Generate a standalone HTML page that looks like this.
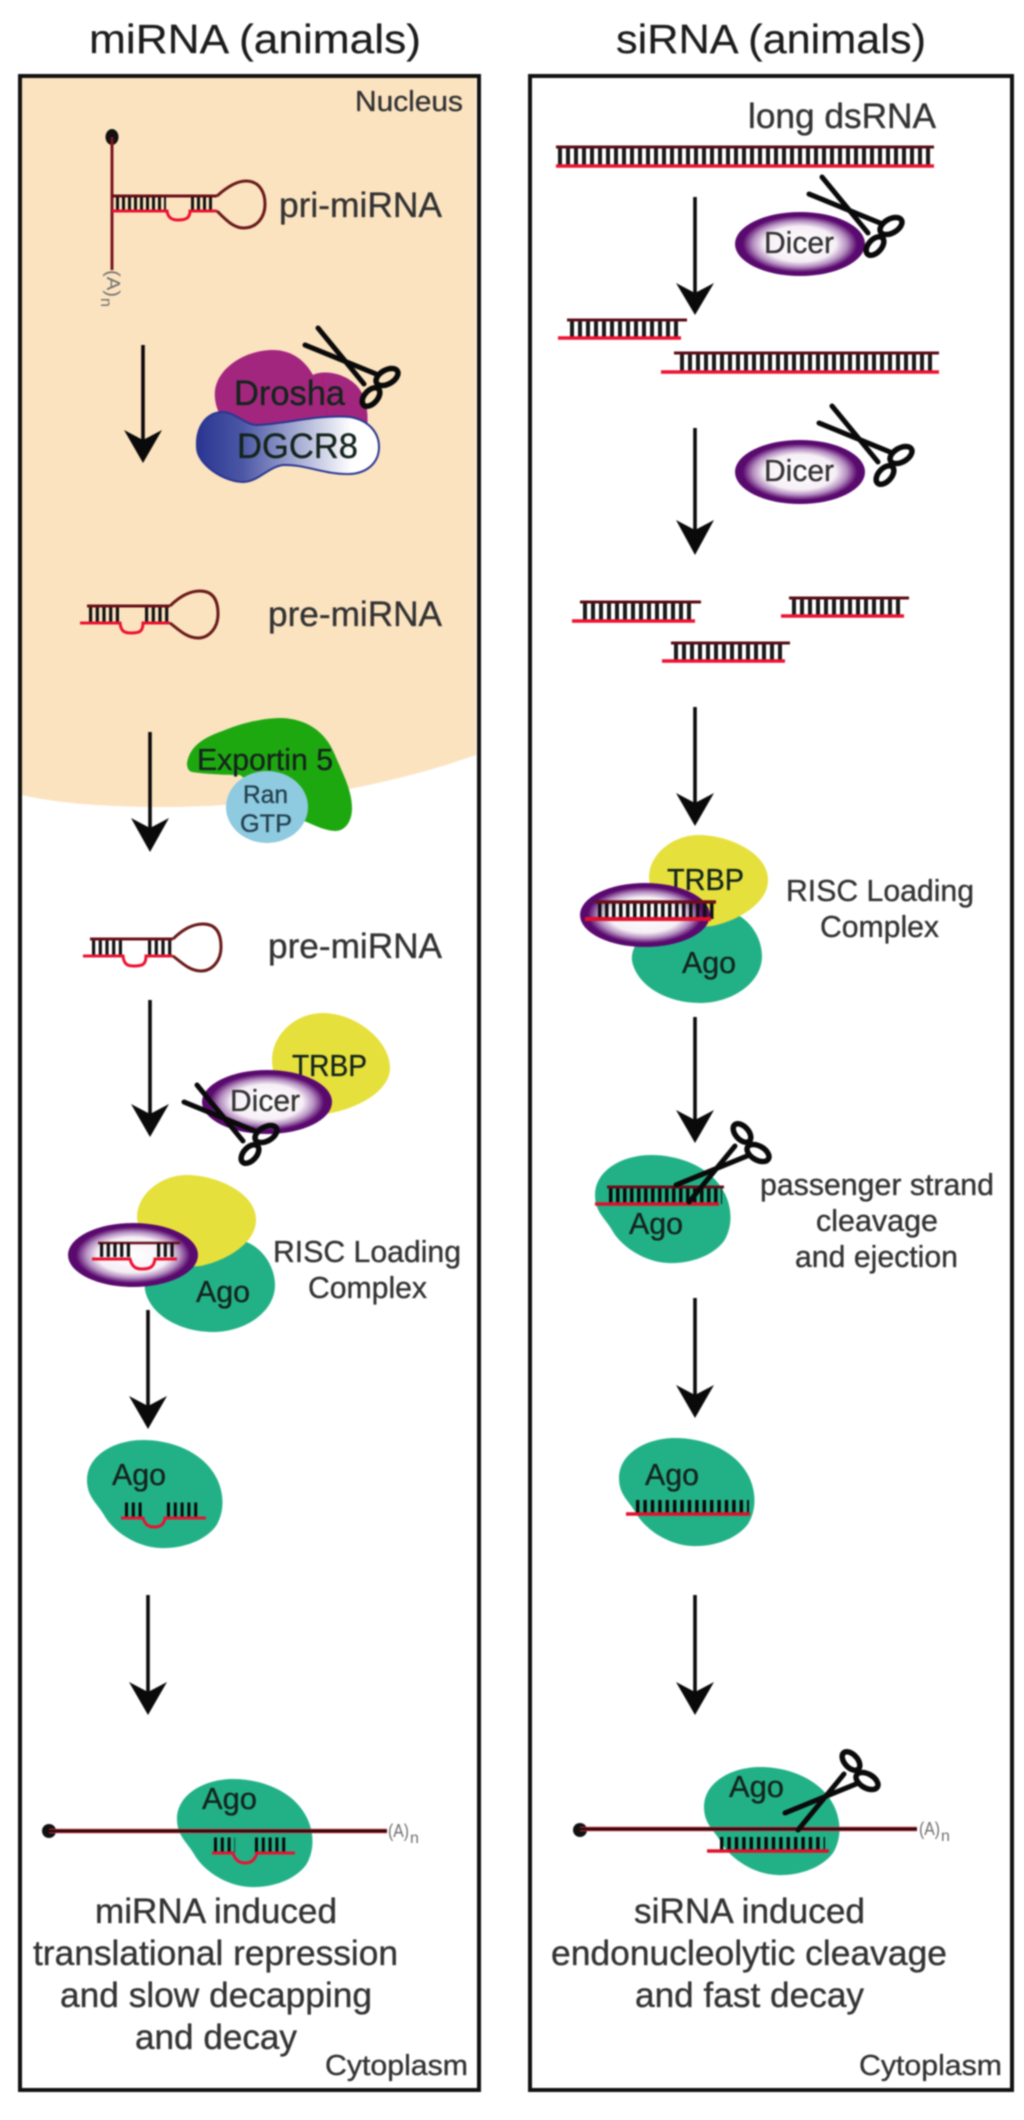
<!DOCTYPE html>
<html><head><meta charset="utf-8"><style>
html,body{margin:0;padding:0;background:#fff}
svg{display:block;filter:blur(.8px)}
text{font-family:"Liberation Sans",sans-serif;fill:#333;stroke:#333;stroke-width:.35}
.h{font-size:41px;fill:#1c1c1c;stroke:#1c1c1c;stroke-width:.2}
.k{fill:#14241c;stroke:#14241c}
.a{fill:#6f6f6f;stroke:none}
</style></head><body>
<svg xmlns="http://www.w3.org/2000/svg" width="1024" height="2120" viewBox="0 0 1024 2120">
<defs>
<radialGradient id="dg"><stop offset="0" stop-color="#fff"/><stop offset=".55" stop-color="#f6eff6"/><stop offset=".72" stop-color="#b58fc0"/><stop offset=".88" stop-color="#5a0a6e"/><stop offset="1" stop-color="#5a0a6e"/></radialGradient>
<linearGradient id="bg"><stop offset="0" stop-color="#2a3592"/><stop offset=".25" stop-color="#4b57a5"/><stop offset=".85" stop-color="#fff"/></linearGradient>
<g id="sc" fill="none" stroke="#0a0a0a" stroke-linecap="round">
<path d="M318,328 L364,384" stroke-width="5"/><path d="M305,345 L376,374" stroke-width="5"/>
<ellipse cx="387" cy="377" rx="12" ry="7" stroke-width="5.5" transform="rotate(-30 387 377)"/>
<ellipse cx="371" cy="397" rx="11" ry="6.5" stroke-width="5.5" transform="rotate(-48 371 397)"/>
</g>
<path id="ago" fill="#22b187" d="M143,1440 C172,1440 200,1452 213,1472 C224,1488 226,1510 216,1526 C204,1542 180,1549 160,1548 C135,1547 112,1530 104,1515 C97,1503 87,1497 87,1480 C87,1455 115,1440 143,1440 Z"/>
<path id="yel" fill="#e6e03c" d="M187,1175 C215,1175 256,1192 256,1220 C256,1245 222,1262 200,1266 C175,1270 137,1240 137,1217 C137,1195 160,1175 187,1175Z"/>
<path id="rag" fill="#22b187" d="M225,1240 C255,1235 275,1262 275,1285 C275,1312 245,1332 213,1332 C180,1332 150,1315 145,1290 C142,1260 190,1245 225,1240Z"/>
<g id="hp" fill="none">
<path d="M0,0 H83" stroke="#6a0f18" stroke-width="3"/>
<path d="M2,9 H32 M58,9 H83" stroke="#111" stroke-width="15" stroke-dasharray="3.2 3.5"/>
<path d="M-7,17 H33 C34,26 38,27 44,27 C52,27 56,26 56,17 H83" stroke="#ec1030" stroke-width="3"/>
<path d="M83,0 C95,-12 105,-15 113,-15 C128,-15 131,-3 131,8 C131,22 122,32 111,32 C100,32 92,24 83,17" stroke="#6a1a1a" stroke-width="3"/>
</g>
</defs>

<!-- nucleus -->
<path fill="#fbe3c0" d="M22,78 H476 V755 C400,782 290,806 170,807 C110,807 60,804 22,795 Z"/>
<!-- boxes -->
<rect x="20" y="76" width="459" height="2014" fill="none" stroke="#111" stroke-width="4"/>
<rect x="530" y="76" width="482" height="2014" fill="none" stroke="#111" stroke-width="4"/>

<text class="h" x="89" y="53" textLength="332" lengthAdjust="spacingAndGlyphs">miRNA (animals)</text>
<text class="h" x="616" y="53" textLength="310" lengthAdjust="spacingAndGlyphs">siRNA (animals)</text>
<text x="355" y="111" font-size="28.5" textLength="108" lengthAdjust="spacingAndGlyphs">Nucleus</text>

<!-- arrows -->
<g fill="#0a0a0a" stroke="#0a0a0a">
<g stroke-width="3.6">
<path d="M143,345V445M150,732V835M150,1000V1120M148,1310V1412M148,1595V1700M695,197V300M695,428V540M695,707V810M695,1017V1128M695,1298V1402M695,1595V1700"/>
</g>
<g stroke="none">
<path d="M124,430 L143,440 L162,430 L143,463Z"/>
<path d="M131,818 L150,828 L169,818 L150,852Z"/>
<path d="M131,1104 L150,1114 L169,1104 L150,1137Z"/>
<path d="M129,1396 L148,1406 L167,1396 L148,1429Z"/>
<path d="M129,1682 L148,1692 L167,1682 L148,1715Z"/>
<path d="M676,283 L695,293 L714,283 L695,315Z"/>
<path d="M676,520 L695,530 L714,520 L695,555Z"/>
<path d="M676,793 L695,803 L714,793 L695,826Z"/>
<path d="M676,1110 L695,1120 L714,1110 L695,1143Z"/>
<path d="M676,1385 L695,1395 L714,1385 L695,1418Z"/>
<path d="M676,1682 L695,1692 L714,1682 L695,1715Z"/>
</g></g>

<!-- pri-miRNA -->
<ellipse cx="112" cy="137" rx="6.5" ry="8" fill="#111"/>
<g fill="none">
<path d="M112,137 V270" stroke="#7a1420" stroke-width="3"/>
<path d="M112,196 H217" stroke="#6a0f18" stroke-width="3"/>
<path d="M116,204 H166 M191,204 H215" stroke="#111" stroke-width="14" stroke-dasharray="3 3"/>
<path d="M112,211 H167 C168,218 172,220 178,220 C186,220 190,218 190,211 H217" stroke="#ec1030" stroke-width="3"/>
<path d="M217,196 C228,186 238,181 246,181 C260,181 265,193 265,204 C265,218 256,228 244,228 C233,228 225,219 217,211" stroke="#6a1a1a" stroke-width="3"/>
</g>
<g transform="translate(107,270) rotate(90)"><text class="a" font-size="18" x="0" y="0" textLength="27" lengthAdjust="spacingAndGlyphs">(A)</text><text class="a" font-size="16" x="28" y="6">n</text></g>
<text x="279" y="217" font-size="35" textLength="163" lengthAdjust="spacingAndGlyphs">pri-miRNA</text>

<!-- Drosha / DGCR8 -->
<path fill="#a3267e" d="M215,390 C218,368 245,350 273,350 C293,350 306,362 313,375 C322,370 345,372 358,387 C366,397 369,412 367,430 L240,440 C225,425 213,410 215,390Z"/>
<path d="M322,375 C325,395 328,410 326,425" fill="none" stroke="#b4166e" stroke-width="1.2"/>
<path fill="url(#bg)" stroke="#2a3592" stroke-width="2" d="M197,447 C196,428 205,413 222,412 C235,412 245,425 257,425 C285,424 320,414 350,417 C368,420 379,432 379,447 C379,462 368,473 350,474 C325,475 305,464 283,465 C268,467 258,482 243,482 C225,482 197,465 197,447Z"/>
<text class="k" x="234" y="405" font-size="35" textLength="111" lengthAdjust="spacingAndGlyphs">Drosha</text>
<text class="k" x="237" y="458" font-size="35" textLength="121" lengthAdjust="spacingAndGlyphs">DGCR8</text>
<use href="#sc"/>

<!-- pre-miRNA -->
<use href="#hp" transform="translate(87,606)"/>
<text x="268" y="626" font-size="35" textLength="174" lengthAdjust="spacingAndGlyphs">pre-miRNA</text>
<use href="#hp" transform="translate(90,939)"/>
<text x="268" y="958" font-size="35" textLength="174" lengthAdjust="spacingAndGlyphs">pre-miRNA</text>

<!-- Exportin -->
<path fill="#1ea810" d="M187,763 C190,745 205,737 225,730 C245,722 265,718 282,718 C305,719 325,730 335,755 C342,772 352,790 352,808 C352,822 345,831 335,831 C320,830 310,822 300,820 L240,775 C225,775 205,774 192,772 C188,771 187,767 187,763Z"/>
<ellipse cx="267" cy="807" rx="41" ry="36" fill="#8ecae0"/>
<text class="k" x="197" y="770" font-size="30.5" textLength="136" lengthAdjust="spacingAndGlyphs">Exportin 5</text>
<text x="243" y="803" font-size="25" textLength="45" lengthAdjust="spacingAndGlyphs" style="fill:#23404f;stroke:#23404f">Ran</text>
<text x="240" y="832" font-size="25" textLength="52" lengthAdjust="spacingAndGlyphs" style="fill:#23404f;stroke:#23404f">GTP</text>

<!-- L Dicer/TRBP -->
<path fill="#e6e03c" d="M323,1013 C355,1013 390,1040 390,1068 C390,1092 355,1110 325,1114 C295,1112 272,1085 272,1060 C272,1035 295,1013 323,1013Z"/>
<text class="k" x="292" y="1076" font-size="30.5" textLength="75" lengthAdjust="spacingAndGlyphs">TRBP</text>
<ellipse cx="267" cy="1102" rx="65" ry="32" fill="url(#dg)"/>
<text x="230" y="1111" font-size="30.5" textLength="70" lengthAdjust="spacingAndGlyphs">Dicer</text>
<use href="#sc" transform="translate(-121,757)"/>

<!-- L RISC -->
<use href="#rag"/><use href="#yel"/>
<ellipse cx="133" cy="1255" rx="65" ry="32" fill="url(#dg)"/>
<g fill="none">
<path d="M98,1243 H180" stroke="#6a0f18" stroke-width="2.6"/>
<path d="M100,1250 H132 M157,1250 H175" stroke="#111" stroke-width="14" stroke-dasharray="3.2 3.5"/>
<path d="M92,1259 H130 C132,1267 136,1269 142,1269 C150,1269 154,1267 155,1259 H177" stroke="#ec1030" stroke-width="3"/>
</g>
<text class="k" x="196" y="1302" font-size="30.5" textLength="54" lengthAdjust="spacingAndGlyphs">Ago</text>
<text x="273" y="1262" font-size="30.5" textLength="188" lengthAdjust="spacingAndGlyphs">RISC Loading</text>
<text x="308" y="1298" font-size="30.5" textLength="119" lengthAdjust="spacingAndGlyphs">Complex</text>

<!-- L Ago -->
<use href="#ago"/>
<text class="k" x="112" y="1485" font-size="30.5" textLength="54" lengthAdjust="spacingAndGlyphs">Ago</text>
<g fill="none">
<path d="M125,1510 H143 M167,1510 H200" stroke="#0a0a0a" stroke-width="15" stroke-dasharray="3 3.8"/>
<path d="M121,1518 H143 C145,1525 149,1527 154,1527 C160,1527 164,1525 165,1518 H206" stroke="#ec1030" stroke-width="3"/>
</g>

<!-- L bottom -->
<use href="#ago" transform="translate(90,339)"/>
<text class="k" x="202" y="1809" font-size="30.5" textLength="55" lengthAdjust="spacingAndGlyphs">Ago</text>
<circle cx="49" cy="1831" r="7" fill="#111"/>
<path d="M49,1831 H387" stroke="#c23a48" stroke-width="4.5" fill="none"/>
<path d="M49,1831 H387" stroke="#300508" stroke-width="2.8" fill="none"/>
<text class="a" x="388" y="1837" font-size="18" textLength="21" lengthAdjust="spacingAndGlyphs">(A)</text>
<text class="a" x="410" y="1843" font-size="16">n</text>
<g fill="none">
<path d="M214,1845 H235 M255,1845 H289" stroke="#0a0a0a" stroke-width="15" stroke-dasharray="3 3.8"/>
<path d="M212,1853 H233 C235,1860 239,1863 245,1863 C251,1863 255,1860 257,1853 H295" stroke="#ec1030" stroke-width="3"/>
</g>
<text x="95" y="1923" font-size="35" textLength="242" lengthAdjust="spacingAndGlyphs">miRNA induced</text>
<text x="33" y="1965" font-size="35" textLength="365" lengthAdjust="spacingAndGlyphs">translational repression</text>
<text x="60" y="2007" font-size="35" textLength="312" lengthAdjust="spacingAndGlyphs">and slow decapping</text>
<text x="135" y="2049" font-size="35" textLength="162" lengthAdjust="spacingAndGlyphs">and decay</text>
<text x="325" y="2075" font-size="28.5" textLength="143" lengthAdjust="spacingAndGlyphs">Cytoplasm</text>

<!-- Right -->
<text x="748" y="128" font-size="35" textLength="188" lengthAdjust="spacingAndGlyphs">long dsRNA</text>
<g fill="none">
<g stroke="#1a1a1a" stroke-dasharray="4 4">
<path d="M558,156 H932" stroke-width="18"/>
<path d="M570,329 H680" stroke-width="17"/>
<path d="M680,363 H936" stroke-width="18"/>
<path d="M583,612 H695" stroke-width="18"/>
<path d="M792,607 H903" stroke-width="18"/>
<path d="M674,652 H785" stroke-width="18"/>
</g>
<g stroke="#5a0c14" stroke-width="3">
<path d="M556,147 H934 M567,320 H687 M674,353 H939 M580,602 H701 M789,598 H909 M671,643 H790"/>
</g>
<g stroke="#ec1030" stroke-width="3.4">
<path d="M556,166 H934 M558,338 H681 M661,372 H939 M572,621 H695 M781,616 H904 M662,661 H785"/>
</g>
</g>

<!-- Dicers -->
<ellipse cx="800" cy="244" rx="65" ry="32" fill="url(#dg)"/>
<text x="764" y="253" font-size="30.5" textLength="70" lengthAdjust="spacingAndGlyphs">Dicer</text>
<use href="#sc" transform="translate(504,-151)"/>
<ellipse cx="800" cy="472" rx="65" ry="32" fill="url(#dg)"/>
<text x="764" y="481" font-size="30.5" textLength="70" lengthAdjust="spacingAndGlyphs">Dicer</text>
<use href="#sc" transform="translate(514,78)"/>

<!-- R RISC -->
<use href="#rag" transform="translate(487,-329)"/>
<use href="#yel" transform="translate(512,-340)"/>
<text class="k" x="667" y="890" font-size="30.5" textLength="77" lengthAdjust="spacingAndGlyphs">TRBP</text>
<text class="k" x="682" y="973" font-size="30.5" textLength="54" lengthAdjust="spacingAndGlyphs">Ago</text>
<ellipse cx="645" cy="915" rx="65" ry="32" fill="url(#dg)"/>
<g fill="none">
<path d="M598,911 H714" stroke="#111" stroke-width="16" stroke-dasharray="3.5 3.5"/>
<path d="M595,902 H716" stroke="#6a0f18" stroke-width="3.4"/>
<path d="M585,919 H711" stroke="#e0102c" stroke-width="4"/>
</g>
<text x="786" y="901" font-size="30.5" textLength="188" lengthAdjust="spacingAndGlyphs">RISC Loading</text>
<text x="820" y="937" font-size="30.5" textLength="119" lengthAdjust="spacingAndGlyphs">Complex</text>

<!-- passenger -->
<use href="#ago" transform="translate(508,-285)"/>
<g fill="none">
<path d="M609,1196 H722" stroke="#0a0a0a" stroke-width="16" stroke-dasharray="3.5 3.5"/>
<path d="M607,1187 H724" stroke="#6a0f18" stroke-width="3"/>
<path d="M595,1204 H719" stroke="#e0102c" stroke-width="3.4"/>
</g>
<use href="#sc" transform="translate(371,1530) scale(1,-1)"/>
<text class="k" x="629" y="1234" font-size="30.5" textLength="54" lengthAdjust="spacingAndGlyphs">Ago</text>
<text x="760" y="1195" font-size="30.5" textLength="234" lengthAdjust="spacingAndGlyphs">passenger strand</text>
<text x="816" y="1231" font-size="30.5" textLength="122" lengthAdjust="spacingAndGlyphs">cleavage</text>
<text x="795" y="1267" font-size="30.5" textLength="163" lengthAdjust="spacingAndGlyphs">and ejection</text>

<!-- R Ago -->
<use href="#ago" transform="translate(532,-2)"/>
<text class="k" x="645" y="1485" font-size="30.5" textLength="54" lengthAdjust="spacingAndGlyphs">Ago</text>
<g fill="none">
<path d="M636,1507 H749" stroke="#0a0a0a" stroke-width="14" stroke-dasharray="3.4 4"/>
<path d="M626,1514 H750" stroke="#e0102c" stroke-width="3.4"/>
</g>

<!-- R bottom -->
<use href="#ago" transform="translate(617,327)"/>
<text class="k" x="729" y="1797" font-size="30.5" textLength="55" lengthAdjust="spacingAndGlyphs">Ago</text>
<circle cx="580" cy="1830" r="7" fill="#111"/>
<path d="M580,1829 H917" stroke="#c23a48" stroke-width="4.5" fill="none"/>
<path d="M580,1829 H917" stroke="#300508" stroke-width="2.8" fill="none"/>
<text class="a" x="919" y="1835" font-size="18" textLength="21" lengthAdjust="spacingAndGlyphs">(A)</text>
<text class="a" x="941" y="1841" font-size="16">n</text>
<g fill="none">
<path d="M720,1844 H825" stroke="#0a0a0a" stroke-width="14" stroke-dasharray="3.4 4"/>
<path d="M707,1851 H829" stroke="#e0102c" stroke-width="3.4"/>
</g>
<use href="#sc" transform="translate(480,2158) scale(1,-1)"/>
<text x="634" y="1923" font-size="35" textLength="231" lengthAdjust="spacingAndGlyphs">siRNA induced</text>
<text x="551" y="1965" font-size="35" textLength="396" lengthAdjust="spacingAndGlyphs">endonucleolytic cleavage</text>
<text x="635" y="2007" font-size="35" textLength="229" lengthAdjust="spacingAndGlyphs">and fast decay</text>
<text x="859" y="2075" font-size="28.5" textLength="143" lengthAdjust="spacingAndGlyphs">Cytoplasm</text>
</svg>
</body></html>
